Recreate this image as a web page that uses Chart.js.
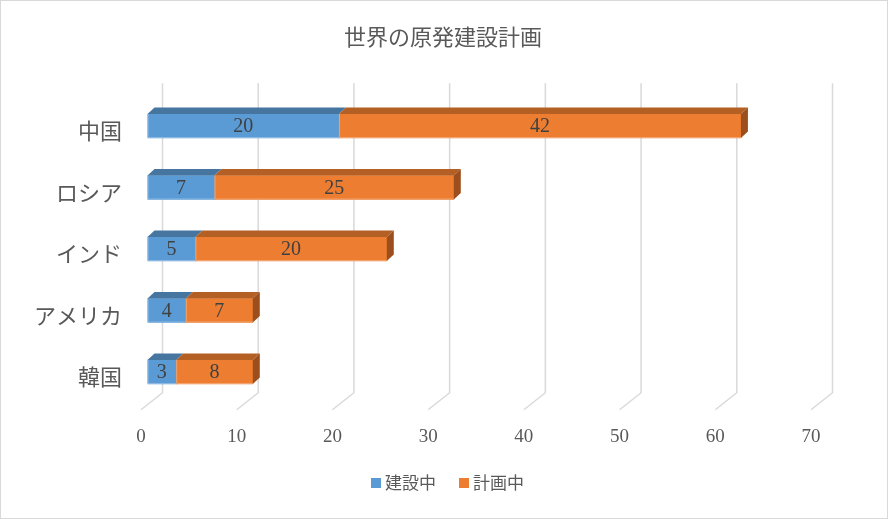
<!DOCTYPE html>
<html>
<head>
<meta charset="utf-8">
<script src="https://cdn.jsdelivr.net/npm/chart.js@4.4.0/dist/chart.umd.min.js"></script>
<style>
  html, body { margin: 0; padding: 0; background: #fff; }
  #wrap { width: 888px; height: 519px; position: relative; }
</style>
</head>
<body>
<div id="wrap"><canvas id="chartGenpatsu"></canvas></div>
<script>
const titre = "世界の原発建設計画"
const pays = ["中国", "ロシア", "インド", "アメリカ", "韓国"]
const nomsSeries = ["建設中", "計画中"]
const enConstruction = [20, 7, 5, 4, 3]
const enProjet = [42, 25, 20, 7, 8]
const graduations = [0, 10, 20, 30, 40, 50, 60, 70]

const couleursFace = ['#5B9BD5', '#ED7D31']
const couleursBord = ['#8DB8E2', '#F3A46E']
const couleursDessus = ['#46769F', '#B45F24']
const couleursCote = ['#3E6A90', '#9C4F1D']

// profondeur 3D des barres et du fond
const barDx = 7, barDy = 6.5
const murDx = 15, solDx = -6.5

const decor3D = {
    id: 'decor3D',
    beforeDatasetsDraw(chart) {
        const ctx = chart.ctx
        const x = chart.scales.x
        const area = chart.chartArea
        const murHaut = area.top - 12
        const murBas = area.bottom - 10
        const solAvant = murBas + 17
        ctx.save()
        ctx.strokeStyle = '#D9D9D9'
        ctx.lineWidth = 1.5
        graduations.forEach(v => {
            const xb = x.getPixelForValue(v) + murDx
            const xf = x.getPixelForValue(v) + solDx
            ctx.beginPath()
            ctx.moveTo(xb, murHaut)
            ctx.lineTo(xb, murBas)
            ctx.lineTo(xf, solAvant)
            ctx.stroke()
        })
        // graduations
        ctx.fillStyle = '#595959'
        ctx.font = '19px "Liberation Serif"'
        ctx.textAlign = 'center'
        ctx.textBaseline = 'middle'
        graduations.forEach(v => {
            ctx.fillText(String(v), x.getPixelForValue(v) + solDx, solAvant + 27)
        })
        // noms des pays
        const y = chart.scales.y
        ctx.font = '22px "Noto Sans CJK JP"'
        ctx.textAlign = 'right'
        pays.forEach((p, i) => {
            ctx.fillText(p, 122, y.getPixelForValue(i) + 5)
        })
        // titre
        ctx.font = '22px "Noto Sans CJK JP"'
        ctx.textAlign = 'center'
        ctx.fillText(titre, 443, 37)
        // legende
        ctx.font = '17px "Noto Sans CJK JP"'
        ctx.textAlign = 'left'
        const legX = [371, 459]
        nomsSeries.forEach((n, i) => {
            ctx.fillStyle = couleursFace[i]
            ctx.fillRect(legX[i], 478, 10, 10)
            ctx.fillStyle = '#595959'
            ctx.fillText(n, legX[i] + 14, 483)
        })
        ctx.restore()
    },
    afterDatasetsDraw(chart) {
        const ctx = chart.ctx
        ctx.save()
        const nbSeries = chart.data.datasets.length
        chart.data.datasets.forEach((ds, d) => {
            const meta = chart.getDatasetMeta(d)
            meta.data.forEach((bar, i) => {
                const p = bar.getProps(['x', 'y', 'base', 'height'], true)
                const haut = p.y - p.height / 2
                const bas = p.y + p.height / 2
                // bord clair de la face avant
                ctx.strokeStyle = couleursBord[d]
                ctx.lineWidth = 1
                ctx.beginPath()
                ctx.moveTo(p.base + 0.5, haut)
                ctx.lineTo(p.base + 0.5, bas - 0.5)
                ctx.lineTo(p.x, bas - 0.5)
                ctx.stroke()
                // dessus
                ctx.fillStyle = couleursDessus[d]
                ctx.beginPath()
                ctx.moveTo(p.base, haut)
                ctx.lineTo(p.x, haut)
                ctx.lineTo(p.x + barDx, haut - barDy)
                ctx.lineTo(p.base + barDx, haut - barDy)
                ctx.closePath()
                ctx.fill()
                // cote droit pour le dernier segment
                if (d === nbSeries - 1) {
                    ctx.fillStyle = couleursCote[d]
                    ctx.beginPath()
                    ctx.moveTo(p.x, haut)
                    ctx.lineTo(p.x + barDx, haut - barDy)
                    ctx.lineTo(p.x + barDx, bas - barDy)
                    ctx.lineTo(p.x, bas)
                    ctx.closePath()
                    ctx.fill()
                }
                // etiquette
                ctx.fillStyle = '#404040'
                ctx.font = '20px "Liberation Serif"'
                ctx.textAlign = 'center'
                ctx.textBaseline = 'middle'
                ctx.fillText(String(ds.data[i]), (p.x + p.base) / 2, p.y + 1)
            })
        })
        ctx.restore()
    }
}

const data = {
    labels: pays,
    datasets: [{
        label: nomsSeries[0],
        data: enConstruction,
        backgroundColor: couleursFace[0],
        barThickness: 24
    }, {
        label: nomsSeries[1],
        data: enProjet,
        backgroundColor: couleursFace[1],
        barThickness: 24
    }]
}

const config = {
    type: 'bar',
    data,
    options: {
        indexAxis: 'y',
        responsive: false,
        animation: false,
        layout: {
            padding: { left: 147.5, right: 70.5, top: 95.25, bottom: 116.25 }
        },
        scales: {
            x: { stacked: true, min: 0, max: 70, display: false },
            y: { stacked: true, display: false }
        },
        plugins: {
            legend: { display: false },
            title: { display: false },
            tooltip: { enabled: false }
        }
    },
    plugins: [decor3D]
}

const canvas = document.getElementById('chartGenpatsu')
canvas.width = 888
canvas.height = 519
const myChart = new Chart(canvas, config)
</script>
<div style="position:absolute;left:0;top:0;width:886px;height:517px;border:1px solid #D9D9D9;pointer-events:none;"></div>
</body>
</html>
